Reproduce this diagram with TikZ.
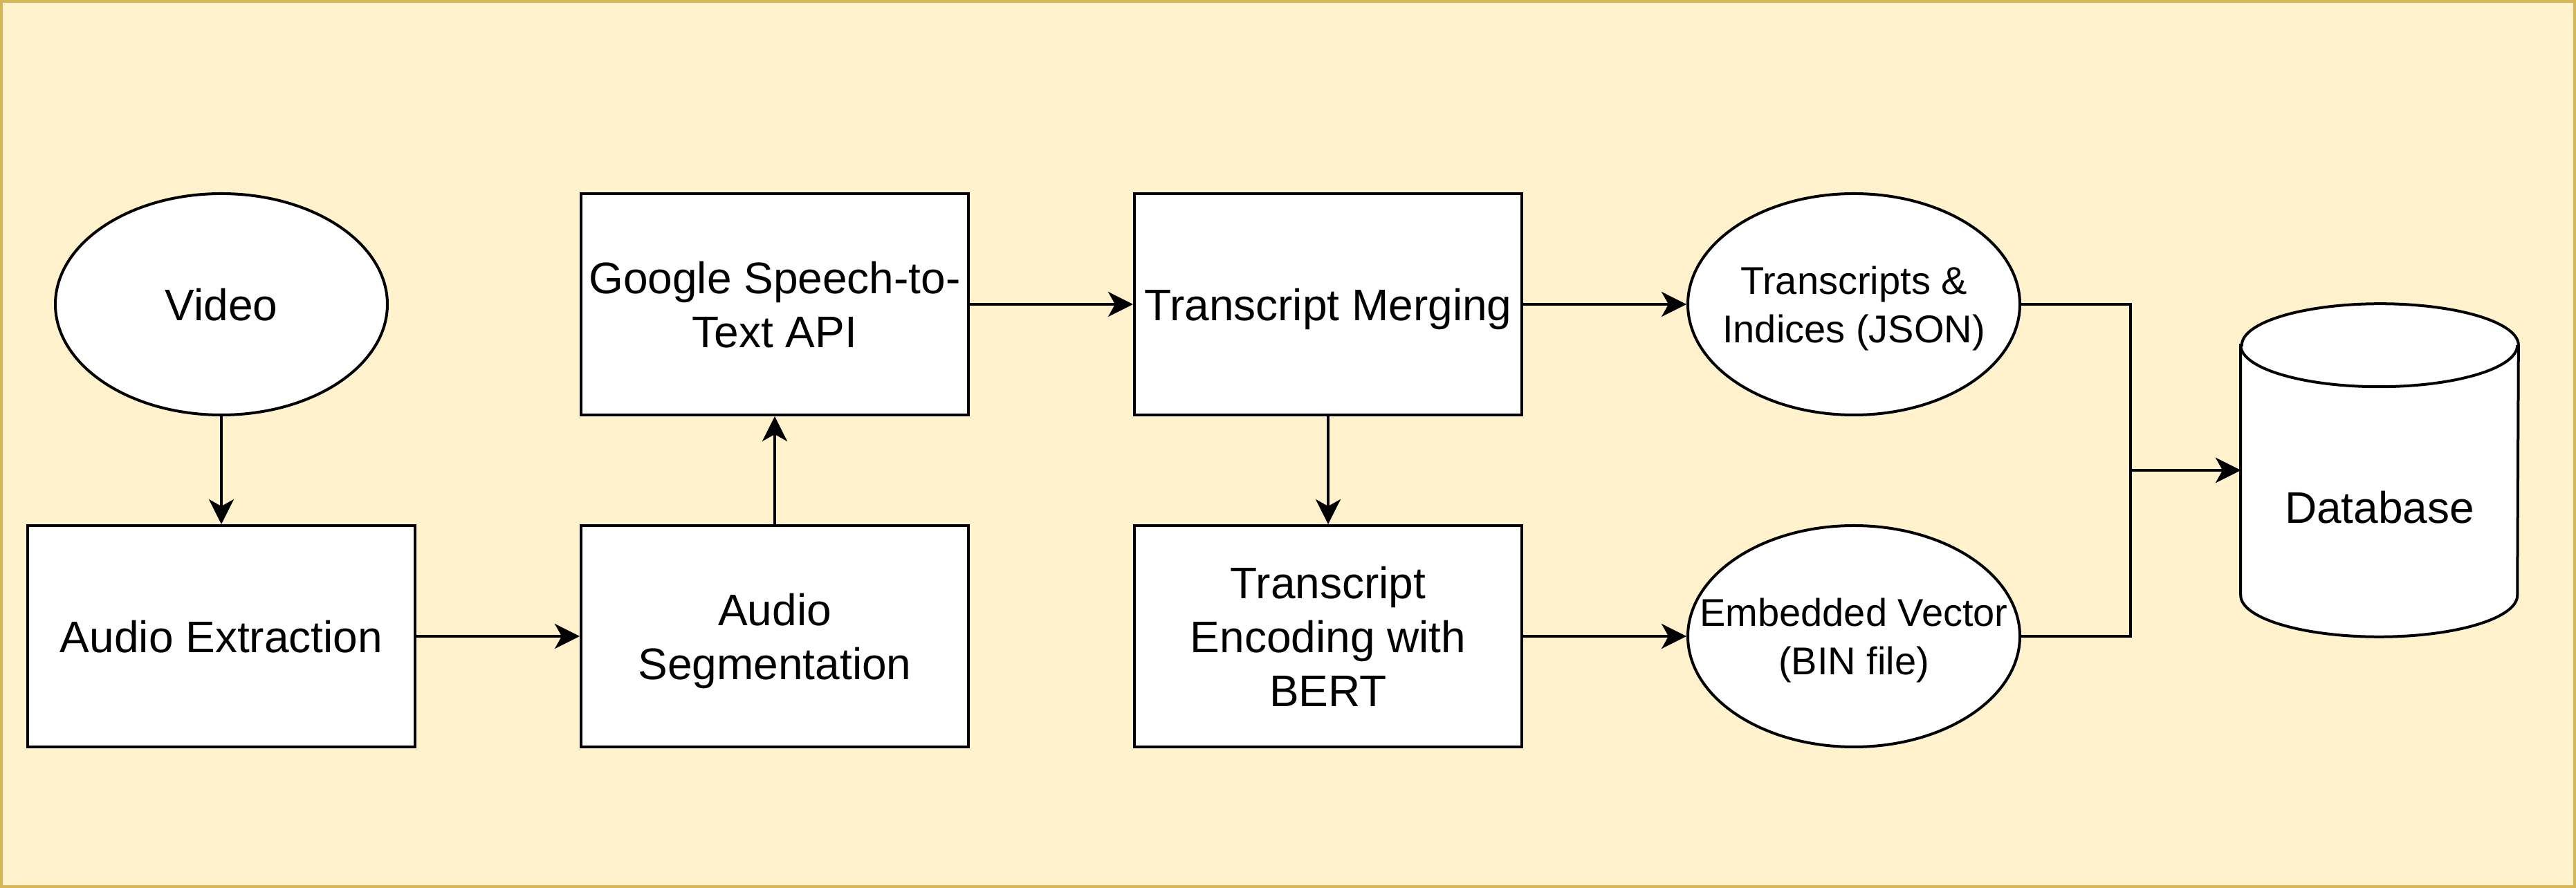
\documentclass[tikz,border=0pt]{standalone}
\usepackage{fontspec}
\setmainfont{Liberation Sans}
\usetikzlibrary{shapes.geometric,arrows.meta}
\definecolor{panelfill}{HTML}{FFF2CC}
\definecolor{panelline}{HTML}{D6B656}
\newcommand{\bigtxt}{\fontsize{16}{19.5}\selectfont}
\newcommand{\smalltxt}{\fontsize{14}{17.5}\selectfont}
\begin{document}
\begin{tikzpicture}[x=1pt, y=1pt,
    box/.style={draw, line width=1pt, fill=white, inner sep=0pt, minimum width=140pt, minimum height=80pt, align=center, text depth=0pt, font=\bigtxt},
    oval/.style={ellipse, draw, line width=1pt, fill=white, inner xsep=-16pt, inner ysep=0pt, minimum width=120pt, minimum height=80pt, align=center, text depth=0pt},
    arr/.style={-{Stealth[length=9pt, width=9pt, inset=2.5pt]}, line width=1pt}]
            \useasboundingbox (0, 0) rectangle (931, 321);
            \draw[draw=panelline, fill=panelfill, line width=1pt] (0.5, 0.5) rectangle (930.5, 320.5);
            \node[oval, font=\bigtxt] (video) at (80, 211) {Video};
            \node[box] (audioext) at (80, 91) {Audio Extraction};
            \node[box] (audioseg) at (280, 91) {Audio\\Segmentation};
            \node[box] (google) at (280, 211) {Google Speech-to-\\Text API};
            \node[box] (merge) at (480, 211) {Transcript Merging};
            \node[box] (encode) at (480, 91) {Transcript\\Encoding with\\BERT};
            \node[oval, font=\smalltxt] (json) at (670, 211) {Transcripts \&\\Indices (JSON)};
            \node[oval, font=\smalltxt] (bin) at (670, 91) {Embedded Vector\\(BIN file)};
            \node[inner sep=0pt, minimum width=100pt, minimum height=120pt] (db) at (860, 151) {};
            \draw[line width=1pt, fill=white] ([yshift=-15pt]db.north west) -- ([yshift=15pt]db.south west)
                arc[start angle=180, end angle=360, x radius=50pt, y radius=15pt] -- ([yshift=-15pt]db.north east)
                arc[start angle=0, end angle=180, x radius=50pt, y radius=15pt] -- cycle;
            \draw[line width=1pt] ([yshift=-15pt]db.north west) arc[start angle=180, end angle=360, x radius=50pt, y radius=15pt];
            \node[font=\bigtxt] (dbtext) at ([yshift=-13.5pt]db.center) {Database};
            \coordinate (join) at (770, 151);
            \draw[arr] (video) -- (audioext);
            \draw[arr] (audioext) -- (audioseg);
            \draw[arr] (audioseg) -- (google);
            \draw[arr] (google) -- (merge);
            \draw[arr] (merge) -- (json);
            \draw[arr] (merge) -- (encode);
            \draw[arr] (encode) -- (bin);
            \draw[arr] (json.east) -| (join) -- (db.west);
            \draw[arr] (bin.east) -| (join) -- (db.west);
        \end{tikzpicture}
\end{document}
